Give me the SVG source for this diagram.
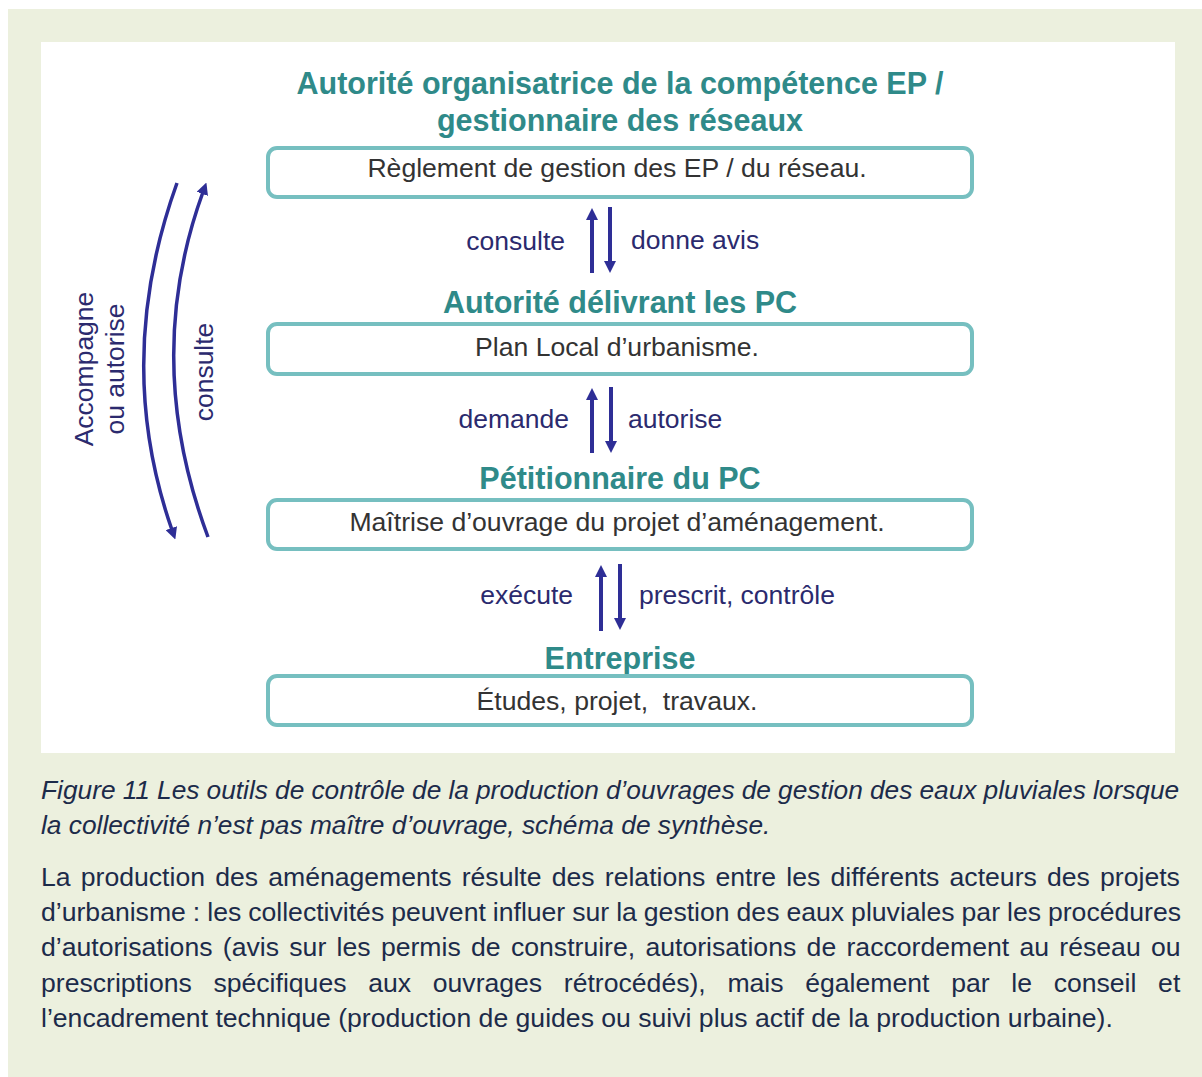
<svg xmlns="http://www.w3.org/2000/svg" width="1202" height="1077" viewBox="0 0 1202 1077">
<style>
.head{font-family:"Liberation Sans",Arial,sans-serif;font-weight:bold;font-size:30.5px;fill:#2F8A89;text-anchor:middle}
.box{fill:#FFFFFF;stroke:#76BFC0;stroke-width:4}
.bt{font-family:"Liberation Sans",Arial,sans-serif;font-size:26.6px;fill:#333333;text-anchor:middle}
.lbl{font-family:"Liberation Sans",Arial,sans-serif;font-size:26.5px;fill:#2B2A6E}
.arr{stroke:#2E2E96;stroke-width:4;fill:none}
.carr{stroke:#2E2E96;stroke-width:3.5;fill:none}
.cap{font-family:"Liberation Sans",Arial,sans-serif;font-size:26.3px;font-style:italic;fill:#1C2B4A}
.body{font-family:"Liberation Sans",Arial,sans-serif;font-size:26.6px;fill:#1C2B4A}
</style>
<defs>
<marker id="ah" markerUnits="userSpaceOnUse" viewBox="0 0 12 12" markerWidth="12" markerHeight="12" refX="2" refY="6" orient="auto">
<path d="M0,0 L12,6 L0,12 z" fill="#2E2E96"/>
</marker>
</defs>
<rect x="8" y="9" width="1194" height="1068" fill="#ECF0DE"/>
<rect x="41" y="42" width="1134" height="711" fill="#FFFFFF"/>

<g id="node-autorite-ep">
<text class="head" x="620" y="94">Autorité organisatrice de la compétence EP /</text>
<text class="head" x="620" y="131">gestionnaire des réseaux</text>
<rect class="box" x="268" y="148" width="704" height="49" rx="9"/>
<text class="bt" x="617" y="177">Règlement de gestion des EP / du réseau.</text>
</g>
<g id="node-autorite-pc">
<text class="head" x="620" y="313">Autorité délivrant les PC</text>
<rect class="box" x="268" y="324" width="704" height="50" rx="9"/>
<text class="bt" x="617" y="356">Plan Local d’urbanisme.</text>
</g>
<g id="node-petitionnaire">
<text class="head" x="620" y="489">Pétitionnaire du PC</text>
<rect class="box" x="268" y="500" width="704" height="49" rx="9"/>
<text class="bt" x="617" y="531">Maîtrise d’ouvrage du projet d’aménagement.</text>
</g>
<g id="node-entreprise">
<text class="head" x="620" y="669">Entreprise</text>
<rect class="box" x="268" y="676" width="704" height="49" rx="9"/>
<text class="bt" x="617" y="710">Études, projet,&#160; travaux.</text>
</g>

<g id="connectors">
<line class="arr" x1="592" y1="273" x2="592" y2="218" marker-end="url(#ah)"/>
<line class="arr" x1="610" y1="207" x2="610" y2="263" marker-end="url(#ah)"/>
<text class="lbl" x="565" y="250" text-anchor="end">consulte</text>
<text class="lbl" x="631" y="249">donne avis</text>

<line class="arr" x1="592" y1="453" x2="592" y2="398" marker-end="url(#ah)"/>
<line class="arr" x1="611" y1="387" x2="611" y2="443" marker-end="url(#ah)"/>
<text class="lbl" x="569" y="428" text-anchor="end">demande</text>
<text class="lbl" x="628" y="428">autorise</text>

<line class="arr" x1="601" y1="631" x2="601" y2="575" marker-end="url(#ah)"/>
<line class="arr" x1="620" y1="564" x2="620" y2="620" marker-end="url(#ah)"/>
<text class="lbl" x="573" y="604" text-anchor="end">exécute</text>
<text class="lbl" x="639" y="604">prescrit, contrôle</text>

<path class="carr" d="M177,183 Q113,361 172,530" marker-end="url(#ah)"/>
<path class="carr" d="M208,537 Q142,360 203,192" marker-end="url(#ah)"/>
<text class="lbl" transform="translate(93,369) rotate(-90)" text-anchor="middle">Accompagne</text>
<text class="lbl" transform="translate(124,369) rotate(-90)" text-anchor="middle">ou autorise</text>
<text class="lbl" transform="translate(213,372) rotate(-90)" text-anchor="middle">consulte</text>
</g>

<text class="cap" x="41" y="799" word-spacing="-0.2">Figure 11 Les outils de contrôle de la production d’ouvrages de gestion des eaux pluviales lorsque</text>
<text class="cap" x="41" y="834">la collectivité n’est pas maître d’ouvrage, schéma de synthèse.</text>

<text class="body" x="41" y="886" word-spacing="2.8">La production des aménagements résulte des relations entre les différents acteurs des projets</text>
<text class="body" x="41" y="921" word-spacing="-0.4">d’urbanisme : les collectivités peuvent influer sur la gestion des eaux pluviales par les procédures</text>
<text class="body" x="41" y="956" word-spacing="2.95">d’autorisations (avis sur les permis de construire, autorisations de raccordement au réseau ou</text>
<text class="body" x="41" y="992" word-spacing="14.3">prescriptions spécifiques aux ouvrages rétrocédés), mais également par le conseil et</text>
<text class="body" x="41" y="1027">l’encadrement technique (production de guides ou suivi plus actif de la production urbaine).</text>
</svg>
